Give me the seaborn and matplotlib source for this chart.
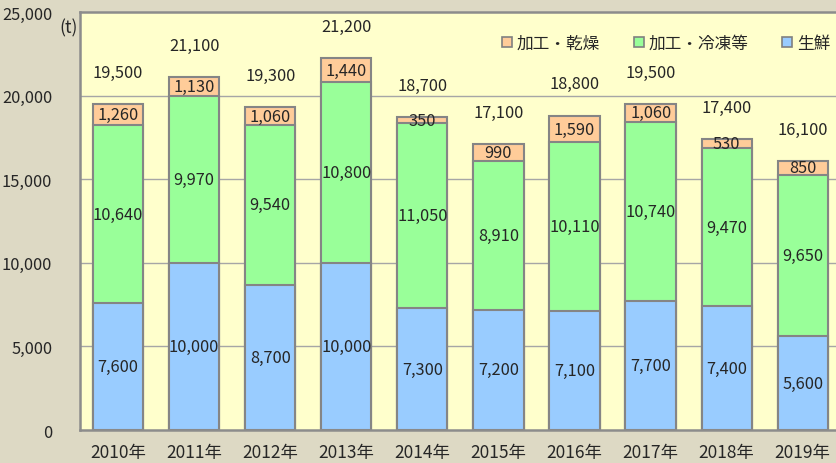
import numpy as np
import pandas as pd
import matplotlib
matplotlib.use('Agg')
import matplotlib.pyplot as plt
from matplotlib.patches import Patch
import seaborn as sns

# Data (t)
years = ['2010年', '2011年', '2012年', '2013年', '2014年',
         '2015年', '2016年', '2017年', '2018年', '2019年']
fresh = [7600, 10000, 8700, 10000, 7300, 7200, 7100, 7700, 7400, 5600]
frozen = [10640, 9970, 9540, 10800, 11050, 8910, 10110, 10740, 9470, 9650]
dried = [1260, 1130, 1060, 1440, 350, 990, 1590, 1060, 530, 850]
totals = [19500, 21100, 19300, 21200, 18700, 17100, 18800, 19500, 17400, 16100]
series_names = ['加工・乾燥', '加工・冷凍等', '生鮮']

sns.set_style('white')
plt.rcParams['font.family'] = ['Noto Sans CJK JP', 'DejaVu Sans']

bg = '#DDD9C4'
plot_bg = '#FFFFCC'
c_fresh, c_frozen, c_dried = '#99CCFF', '#99FF99', '#FFCC99'
edge = '#858585'

df = pd.DataFrame({'year': years, 'fresh': fresh, 'frozen': frozen, 'dried': dried})
df['lvl1'] = df['fresh']
df['lvl2'] = df['fresh'] + df['frozen']
df['lvl3'] = df['lvl2'] + df['dried']

fig = plt.figure(figsize=(8.36, 4.64), dpi=100, facecolor=bg)
ax = fig.add_axes([0.0957, 0.0711, 0.910, 0.9009])
ax.set_facecolor(plot_bg)

# horizontal grid behind bars
for v in [5000, 10000, 15000, 20000]:
    ax.axhline(v, color='#A6A6A6', lw=1.0, zorder=0)

# stacked bars: draw cumulative heights, tallest first
for col, color in [('lvl3', c_dried), ('lvl2', c_frozen), ('lvl1', c_fresh)]:
    sns.barplot(data=df, x='year', y=col, order=years, color=color,
                edgecolor=edge, linewidth=1.5, width=0.66, saturation=1,
                ax=ax, zorder=2)

# segment labels
fs = 11.8
for i in range(len(years)):
    ax.text(i, fresh[i] / 2, f'{fresh[i]:,}', ha='center', va='center', fontsize=fs, zorder=5)
    ax.text(i, fresh[i] + frozen[i] / 2, f'{frozen[i]:,}', ha='center', va='center', fontsize=fs, zorder=5)
    top = fresh[i] + frozen[i]
    ax.text(i, top + dried[i] / 2, f'{dried[i]:,}', ha='center', va='center', fontsize=fs, zorder=5)
    ax.text(i, top + dried[i] + 1900, f'{totals[i]:,}', ha='center', va='center', fontsize=fs, zorder=5)

ax.set_ylim(0, 25000)
ax.set_xlim(-0.5, 9.5)
ax.set_yticks([0, 5000, 10000, 15000, 20000, 25000])
ax.set_yticklabels([f'{v:,}' for v in [0, 5000, 10000, 15000, 20000, 25000]], fontsize=fs)
ax.tick_params(axis='y', length=0, pad=20)
ax.tick_params(axis='x', length=0, pad=9, labelsize=12.5)
ax.set_xlabel('')
ax.set_ylabel('')

for side in ['left', 'bottom', 'top']:
    ax.spines[side].set_color('#8C8C8C')
    ax.spines[side].set_linewidth(1.8)
ax.spines['right'].set_visible(False)

fig.text(59 / 836, 1 - 28 / 464, '(t)', fontsize=12.5, va='center', ha='left')

handles = [Patch(facecolor=c, edgecolor='#808080', linewidth=1.2)
           for c in [c_dried, c_frozen, c_fresh]]
ax.legend(handles, series_names, ncol=3, frameon=False, fontsize=12,
          loc='center left', bbox_to_anchor=(0.535, 0.925),
          handlelength=0.6, handleheight=0.6, handletextpad=0.3,
          columnspacing=2.0)

fig.savefig('out.png', dpi=100, facecolor=bg)
